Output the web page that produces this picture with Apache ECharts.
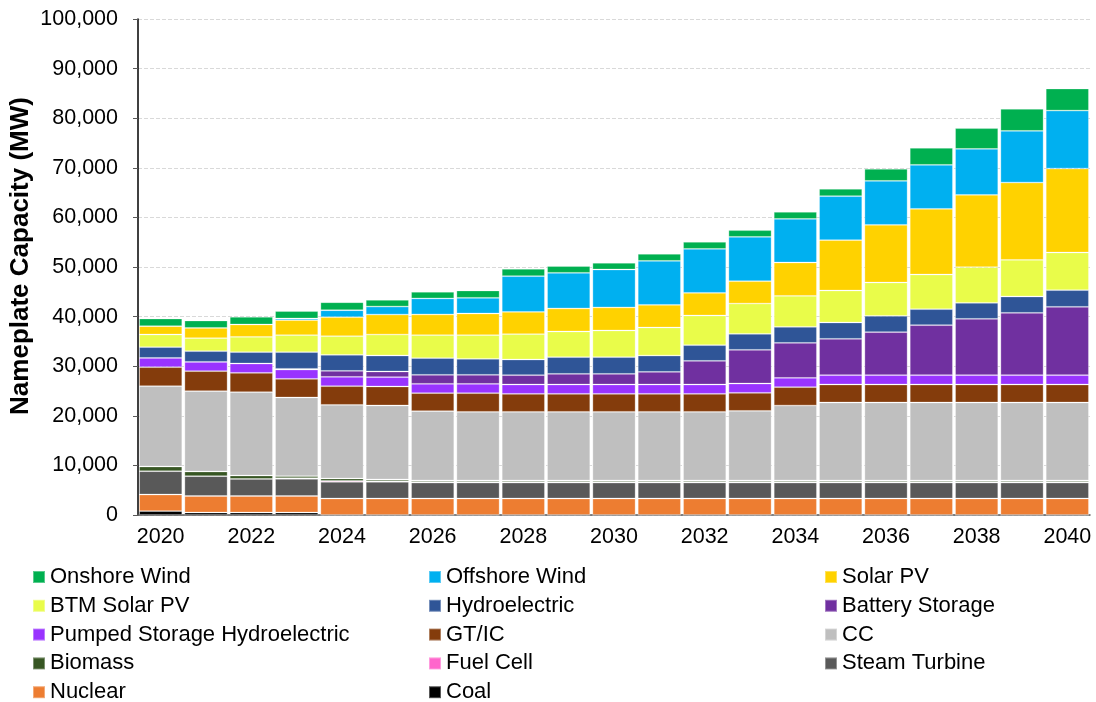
<!DOCTYPE html>
<html>
<head>
<meta charset="utf-8">
<title>Nameplate Capacity</title>
<script src="https://cdn.jsdelivr.net/npm/echarts@6/dist/echarts.min.js"></script>
<style>
  html, body { margin: 0; padding: 0; background: #fff; }
  #chart { width: 1096px; height: 702px; }
</style>
</head>
<body>
<div id="chart"></div>
<script>
// years on the x axis
const years = ['2020', '2021', '2022', '2023', '2024', '2025', '2026', '2027', '2028', '2029', '2030',
  '2031', '2032', '2033', '2034', '2035', '2036', '2037', '2038', '2039', '2040'];

// capacity by resource type (MW), bottom of the stack first
const coal = [800, 500, 500, 500, 0, 0, 0, 0, 0, 0, 0, 0, 0, 0, 0, 0, 0, 0, 0, 0, 0];
const nuclear = [3330, 3330, 3330, 3330, 3330, 3330, 3330, 3330, 3330, 3330, 3330, 3330, 3330, 3330, 3330, 3330, 3330, 3330, 3330, 3330, 3330];
const steamTurbine = [4700, 4000, 3450, 3450, 3350, 3350, 3200, 3200, 3200, 3200, 3200, 3200, 3200, 3200, 3200, 3200, 3200, 3200, 3200, 3200, 3200];
const fuelCell = [0, 0, 0, 150, 200, 150, 150, 150, 150, 150, 150, 150, 150, 150, 150, 150, 150, 150, 150, 150, 150];
const biomass = [950, 940, 680, 400, 480, 330, 280, 280, 280, 280, 280, 280, 280, 280, 280, 280, 280, 280, 280, 280, 280];
const cc = [16190, 16200, 16800, 15860, 14850, 14920, 13980, 13840, 13840, 13840, 13840, 13840, 13840, 14040, 15110, 15720, 15720, 15720, 15720, 15720, 15720];
const gtic = [3830, 4030, 3900, 3760, 3760, 3830, 3630, 3760, 3630, 3630, 3630, 3630, 3630, 3630, 3700, 3630, 3630, 3630, 3630, 3630, 3630];
const pumpedStorage = [1880, 1880, 1880, 1880, 1880, 1880, 1880, 1880, 1880, 1880, 1880, 1880, 1880, 1880, 1880, 1880, 1880, 1880, 1880, 1880, 1880];
const battery = [0, 0, 0, 150, 1210, 1140, 1810, 1820, 1880, 2150, 2150, 2550, 4770, 6790, 7060, 7330, 8670, 10080, 11360, 12570, 13780];
const hydro = [2160, 2150, 2290, 3350, 3225, 3225, 3360, 3225, 3160, 3360, 3360, 3290, 3160, 3225, 3225, 3290, 3290, 3225, 3225, 3290, 3360];
const btmSolar = [2550, 2620, 3090, 3430, 3760, 4230, 4640, 4770, 5110, 5180, 5380, 5650, 5980, 6110, 6250, 6450, 6720, 6990, 7190, 7390, 7590];
const solarPV = [1680, 2080, 2490, 3020, 3830, 4030, 4170, 4370, 4500, 4640, 4640, 4570, 4570, 4500, 6720, 10150, 11630, 13240, 14580, 15590, 16930];
const offshoreWind = [0, 0, 0, 340, 1410, 1610, 3230, 3160, 7190, 7190, 7660, 8870, 8870, 8940, 8800, 8870, 8870, 8870, 9270, 10420, 11690];
const onshoreWind = [1545, 1480, 1545, 1480, 1610, 1345, 1345, 1480, 1480, 1345, 1345, 1410, 1410, 1345, 1410, 1480, 2420, 3430, 4170, 4440, 4440];

const stackOrder = [
  ['Coal', coal, '#000000'],
  ['Nuclear', nuclear, '#ED7D31'],
  ['Steam Turbine', steamTurbine, '#595959'],
  ['Fuel Cell', fuelCell, '#FF66CC'],
  ['Biomass', biomass, '#375623'],
  ['CC', cc, '#BFBFBF'],
  ['GT/IC', gtic, '#843C0C'],
  ['Pumped Storage Hydroelectric', pumpedStorage, '#9933FF'],
  ['Battery Storage', battery, '#7030A0'],
  ['Hydroelectric', hydro, '#2F5597'],
  ['BTM Solar PV', btmSolar, '#E9FC4A'],
  ['Solar PV', solarPV, '#FFD200'],
  ['Offshore Wind', offshoreWind, '#00B0F0'],
  ['Onshore Wind', onshoreWind, '#00B050'],
];

const legendCols = [
  ['Onshore Wind', 'BTM Solar PV', 'Pumped Storage Hydroelectric', 'Biomass', 'Nuclear'],
  ['Offshore Wind', 'Hydroelectric', 'GT/IC', 'Fuel Cell', 'Coal'],
  ['Solar PV', 'Battery Storage', 'CC', 'Steam Turbine'],
];
const legendLeft = [32, 428, 824];

const FONT = '"Liberation Sans", Arial, sans-serif';

const chart = echarts.init(document.getElementById('chart'), null, { renderer: 'canvas' });

chart.setOption({
  animation: false,
  textStyle: { fontFamily: FONT },
  grid: { left: 138, top: 19, width: 952, height: 496 },
  legend: legendCols.map((names, i) => ({
    data: names,
    orient: 'vertical',
    left: legendLeft[i],
    top: 566,
    padding: 0,
    height: 300,
    itemWidth: 12,
    itemHeight: 12,
    itemGap: 6.8,
    icon: 'rect',
    selectedMode: false,
    textStyle: { fontFamily: FONT, fontSize: 22, color: '#000', lineHeight: 21 },
  })),
  graphic: [{
    type: 'text',
    x: 21,
    y: 256,
    rotation: Math.PI / 2,
    style: {
      text: 'Nameplate Capacity (MW)',
      font: 'bold 26px ' + FONT,
      fill: '#000',
      align: 'center',
      verticalAlign: 'middle',
    },
  }],
  xAxis: {
    type: 'category',
    data: years,
    axisLine: { lineStyle: { color: '#595959', width: 1.5 } },
    axisTick: { alignWithLabel: true, interval: 0, length: 5, lineStyle: { color: '#000' } },
    axisLabel: { interval: 1, fontSize: 21.5, color: '#000', margin: 11, fontFamily: FONT },
  },
  yAxis: {
    type: 'value',
    min: 0,
    max: 100000,
    interval: 10000,
    axisLine: { show: true, lineStyle: { color: '#000', width: 1.5 } },
    axisTick: { show: true, length: 5, lineStyle: { color: '#595959' } },
    axisLabel: {
      fontSize: 21.5,
      color: '#000',
      margin: 20,
      fontFamily: FONT,
      formatter: (v) => v.toLocaleString('en-US'),
    },
    splitLine: { lineStyle: { color: '#D9D9D9', type: 'dashed' } },
  },
  series: stackOrder.map(([name, values, color]) => ({
    name,
    type: 'bar',
    stack: 'capacity',
    data: values,
    barCategoryGap: '5%',
    itemStyle: { color, borderColor: 'rgba(255,255,255,0.35)', borderWidth: 0.8 },
  })),
});
</script>
</body>
</html>
